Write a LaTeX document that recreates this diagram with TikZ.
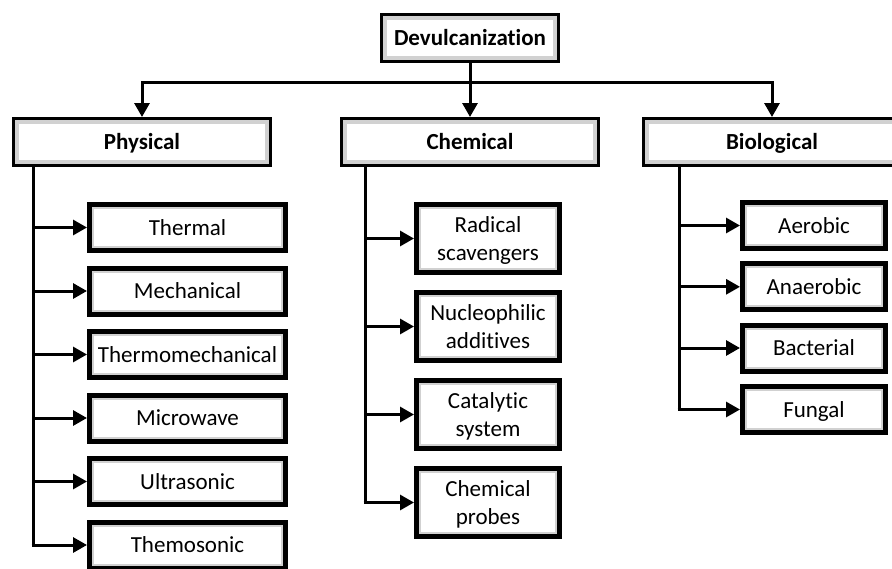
\documentclass[tikz,border=0pt]{standalone}
\usepackage{fontspec}
\setmainfont[Ligatures=NoCommon]{Carlito}
\usetikzlibrary{arrows.meta}
\tikzset{
  leaf/.style={draw, line width=5pt, fill=white, align=center, inner sep=0pt,
    font=\fontsize{23}{28}\selectfont,
    path picture={\draw[black!18,line width=9pt] (path picture bounding box.south west) rectangle (path picture bounding box.north east);}},
  physleaf/.style={leaf, minimum width=196pt, minimum height=46pt, text height=16pt, text depth=1pt},
  chemleaf/.style={leaf, minimum width=143pt, minimum height=68pt, text height=44pt, text depth=1pt},
  bioleaf/.style={leaf, minimum width=143pt, minimum height=46pt, text height=16pt, text depth=1pt},
  cat/.style={draw, line width=3pt, fill=white, align=center, inner sep=0pt,
    font=\fontsize{23}{28}\selectfont\bfseries, minimum width=257pt, minimum height=47pt,
    text height=16pt, text depth=1pt,
    path picture={\draw[black!18,line width=11pt] (path picture bounding box.south west) rectangle (path picture bounding box.north east);}},
  rootbox/.style={cat, minimum width=177pt},
  conn/.style={line width=3pt},
  arr/.style={line width=3pt, -{Triangle[length=14pt,width=15pt]}}
}
\begin{document}
\begin{tikzpicture}[x=1pt,y=-1pt]
\useasboundingbox (0,0) rectangle (892,568);
\clip (0,0) rectangle (892,568);

\node[rootbox] (dev) at (470,38) {Devulcanization};
\node[cat] (phys) at (142,142) {Physical};
\node[cat] (chem) at (470,142) {Chemical};
\node[cat] (bio) at (772,142) {Biological};

\coordinate (hb) at (470,82);
\draw[conn] (dev.south) -- (hb);
\draw[arr] (hb) -- (chem.north);
\draw[arr] (hb) -| (phys.north);
\draw[arr] (hb) -| (bio.north);

% Physical
\node[physleaf] (p1) at (187.5,227.5) {Thermal};
\node[physleaf] (p2) at (187.5,291) {Mechanical};
\node[physleaf] (p3) at (187.5,354.5) {Thermomechanical};
\node[physleaf] (p4) at (187.5,418) {Microwave};
\node[physleaf] (p5) at (187.5,481.5) {Ultrasonic};
\node[physleaf] (p6) at (187.5,545) {Themosonic};
\coordinate (pt) at (33,0);
\draw[conn] (phys.south -| pt) -- (pt |- p6.west);
\foreach \n in {p1,p2,p3,p4,p5}{\draw[arr] (pt |- \n.west) -- (\n.west);}
\draw[arr] ([xshift=-1.5pt]pt |- p6.west) -- (p6.west);

% Chemical
\node[chemleaf] (c1) at (488,238.5) {Radical\\scavengers};
\node[chemleaf] (c2) at (488,326.5) {Nucleophilic\\additives};
\node[chemleaf] (c3) at (488,414.5) {Catalytic\\system};
\node[chemleaf] (c4) at (488,502.5) {Chemical\\probes};
\coordinate (ct) at (365,0);
\draw[conn] (chem.south -| ct) -- (ct |- c4.west);
\foreach \n in {c1,c2,c3}{\draw[arr] (ct |- \n.west) -- (\n.west);}
\draw[arr] ([xshift=-1.5pt]ct |- c4.west) -- (c4.west);

% Biological
\node[bioleaf] (b1) at (814,225.5) {Aerobic};
\node[bioleaf] (b2) at (814,286.8) {Anaerobic};
\node[bioleaf] (b3) at (814,348) {Bacterial};
\node[bioleaf] (b4) at (814,409.5) {Fungal};
\coordinate (bt) at (679,0);
\draw[conn] (bio.south -| bt) -- (bt |- b4.west);
\foreach \n in {b1,b2,b3}{\draw[arr] (bt |- \n.west) -- (\n.west);}
\draw[arr] ([xshift=-1.5pt]bt |- b4.west) -- (b4.west);
\end{tikzpicture}
\end{document}
